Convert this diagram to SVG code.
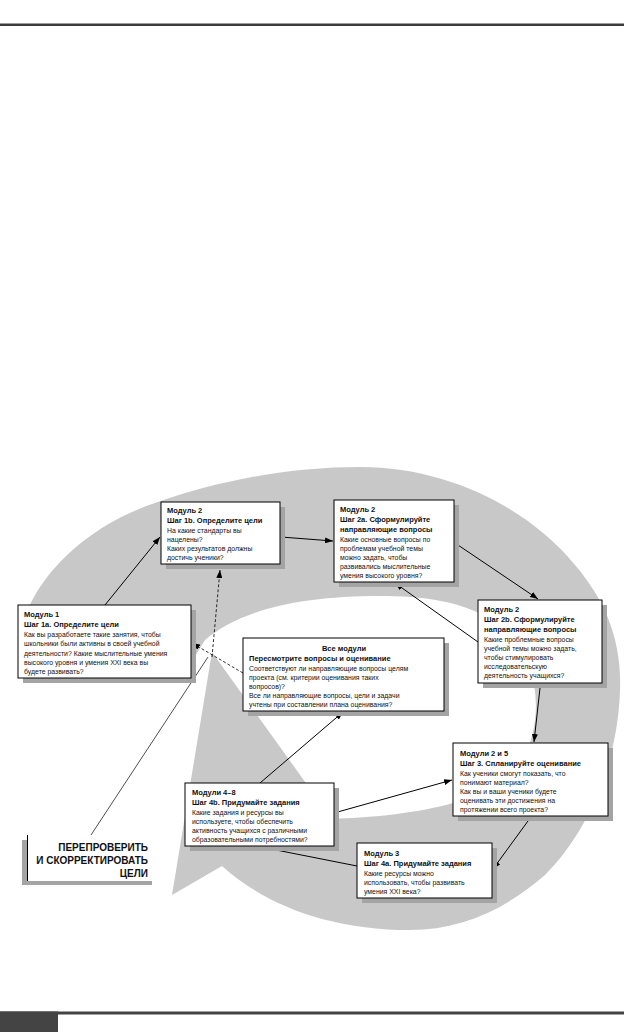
<svg xmlns="http://www.w3.org/2000/svg" width="624" height="1032" viewBox="0 0 624 1032">
<defs>
<style>
.b{font-family:"Liberation Sans",Arial,sans-serif;font-size:7.5px;font-weight:bold;fill:#111}
.r{font-family:"Liberation Sans",Arial,sans-serif;font-size:6.9px;fill:#111}
.big{font-family:"Liberation Sans",Arial,sans-serif;font-size:10px;font-weight:bold;fill:#111}
.box{fill:#fff;stroke:#000;stroke-width:1}
.sh{fill:#a4a4a4}
.c{stroke:#000;stroke-width:1;fill:none}
.d{stroke:#000;stroke-width:0.8;fill:none;stroke-dasharray:3 2}
</style>
<marker id="ah" viewBox="0 0 8 6" refX="8" refY="3" markerWidth="8" markerHeight="6" markerUnits="userSpaceOnUse" orient="auto">
<path d="M0,0 L8,3 L0,6 z" fill="#000"/>
</marker>
</defs>
<rect width="624" height="1032" fill="#fff"/>
<rect x="0" y="23.5" width="624" height="2.5" fill="#3c3c3c"/>
<rect x="0" y="1011.5" width="624" height="3" fill="#444"/>
<rect x="0" y="1011.5" width="58" height="20.5" fill="#444"/>

<g id="ring">
<path fill="#c8c8c8" d="M 22 668 C 6 615, 60 535, 155 503 C 220 480, 290 467, 360 467 C 450 467, 530 510, 575 565 C 605 600, 622 640, 620 690 C 618 760, 590 830, 545 875 C 505 910, 460 930, 410 930 C 330 930, 265 905, 222 866 L 172 895 L 212 652 L 318 800 L 290 818 C 360 822, 480 812, 515 770 C 545 735, 545 660, 500 625 C 465 600, 420 596, 380 596 C 300 596, 240 610, 205 640 L 188 668 Z"/>
</g>

<g id="connectors">
<line class="c" x1="105" y1="605" x2="160" y2="537" marker-end="url(#ah)"/>
<line class="c" x1="281" y1="537" x2="333" y2="541" marker-end="url(#ah)"/>
<line class="c" x1="455" y1="543" x2="538" y2="599" marker-end="url(#ah)"/>
<line class="c" x1="478" y1="642" x2="395" y2="583" marker-end="url(#ah)"/>
<line class="c" x1="540" y1="688" x2="534" y2="742" marker-end="url(#ah)"/>
<line class="c" x1="528" y1="821" x2="493" y2="869" marker-end="url(#ah)"/>
<line class="c" x1="357" y1="866" x2="261" y2="847" marker-end="url(#ah)"/>
<line class="c" x1="334" y1="813" x2="452" y2="780" marker-end="url(#ah)"/>
<line class="c" x1="260" y1="783" x2="343" y2="712" marker-end="url(#ah)"/>
<line class="d" x1="243" y1="673" x2="192" y2="643" marker-end="url(#ah)"/>
<line class="d" x1="212" y1="657" x2="220" y2="570" marker-end="url(#ah)"/>
<line x1="91" y1="835" x2="208" y2="657" stroke="#222" stroke-width="0.8"/>
</g>

<g id="n1b">
<rect class="sh" x="166" y="507" width="119" height="62"/>
<rect class="box" x="161" y="502" width="119" height="62"/>
<text class="b" x="167" y="513">Модуль 2</text>
<text class="b" x="167" y="523">Шаг 1b. Определите цели</text>
<text class="r" x="167" y="533">На какие стандарты вы</text>
<text class="r" x="167" y="542">нацелены?</text>
<text class="r" x="167" y="551">Каких результатов должны</text>
<text class="r" x="167" y="560">достичь ученики?</text>
</g>

<g id="n2a">
<rect class="sh" x="339" y="505" width="120" height="82"/>
<rect class="box" x="334" y="500" width="120" height="82"/>
<text class="b" x="340" y="512">Модуль 2</text>
<text class="b" x="340" y="522">Шаг 2a. Сформулируйте</text>
<text class="b" x="340" y="532">направляющие вопросы</text>
<text class="r" x="340" y="542">Какие основные вопросы по</text>
<text class="r" x="340" y="551">проблемам учебной темы</text>
<text class="r" x="340" y="560">можно задать, чтобы</text>
<text class="r" x="340" y="569">развивались мыслительные</text>
<text class="r" x="340" y="578">умения высокого уровня?</text>
</g>

<g id="n1">
<rect class="sh" x="23" y="610" width="173" height="73"/>
<rect class="box" x="18" y="605" width="173" height="73"/>
<text class="b" x="24" y="617">Модуль 1</text>
<text class="b" x="24" y="627">Шаг 1a. Определите цели</text>
<text class="r" x="24" y="637">Как вы разработаете такие занятия, чтобы</text>
<text class="r" x="24" y="646">школьники были активны в своей учебной</text>
<text class="r" x="24" y="656">деятельности? Какие мыслительные умения</text>
<text class="r" x="24" y="665">высокого уровня и умения XXI века вы</text>
<text class="r" x="24" y="674">будете развивать?</text>
</g>

<g id="n2b">
<rect class="sh" x="483" y="605" width="124" height="83"/>
<rect class="box" x="478" y="600" width="124" height="83"/>
<text class="b" x="484" y="612">Модуль 2</text>
<text class="b" x="484" y="622">Шаг 2b. Сформулируйте</text>
<text class="b" x="484" y="632">направляющие вопросы</text>
<text class="r" x="484" y="642">Какие проблемные вопросы</text>
<text class="r" x="484" y="651">учебной темы можно задать,</text>
<text class="r" x="484" y="660">чтобы стимулировать</text>
<text class="r" x="484" y="669">исследовательскую</text>
<text class="r" x="484" y="678">деятельность учащихся?</text>
</g>

<g id="nall">
<rect class="sh" x="248" y="643" width="201" height="73"/>
<rect class="box" x="243" y="638" width="201" height="73"/>
<text class="b" x="344" y="651" text-anchor="middle">Все модули</text>
<text class="b" x="249" y="661">Пересмотрите вопросы и оценивание</text>
<text class="r" x="249" y="671">Соответствуют ли направляющие вопросы целям</text>
<text class="r" x="249" y="680">проекта (см. критерии оценивания таких</text>
<text class="r" x="249" y="689">вопросов)?</text>
<text class="r" x="249" y="698">Все ли направляющие вопросы, цели и задачи</text>
<text class="r" x="249" y="707">учтены при составлении плана оценивания?</text>
</g>

<g id="n25">
<rect class="sh" x="458" y="748" width="155" height="73"/>
<rect class="box" x="453" y="743" width="155" height="73"/>
<text class="b" x="460" y="756">Модули 2 и 5</text>
<text class="b" x="460" y="766">Шаг 3. Спланируйте оценивание</text>
<text class="r" x="460" y="776">Как ученики смогут показать, что</text>
<text class="r" x="460" y="785">понимают материал?</text>
<text class="r" x="460" y="794">Как вы и ваши ученики будете</text>
<text class="r" x="460" y="803">оценивать эти достижения на</text>
<text class="r" x="460" y="812">протяжении всего проекта?</text>
</g>

<g id="n4b">
<rect class="sh" x="190" y="788" width="149" height="63"/>
<rect class="box" x="185" y="783" width="149" height="63"/>
<text class="b" x="192" y="795">Модули 4–8</text>
<text class="b" x="192" y="805">Шаг 4b. Придумайте задания</text>
<text class="r" x="192" y="815">Какие задания и ресурсы вы</text>
<text class="r" x="192" y="824">используете, чтобы обеспечить</text>
<text class="r" x="192" y="833">активность учащихся с различными</text>
<text class="r" x="192" y="842">образовательными потребностями?</text>
</g>

<g id="n3">
<rect class="sh" x="362" y="848" width="135" height="55"/>
<rect class="box" x="357" y="843" width="135" height="55"/>
<text class="b" x="364" y="856">Модуль 3</text>
<text class="b" x="364" y="866">Шаг 4a. Придумайте задания</text>
<text class="r" x="364" y="876">Какие ресурсы можно</text>
<text class="r" x="364" y="885">использовать, чтобы развивать</text>
<text class="r" x="364" y="894">умения XXI века?</text>
</g>

<g id="nrecheck">
<rect class="sh" x="22" y="840" width="130" height="45"/>
<rect x="27" y="835" width="125" height="46" fill="#fff"/>
<line x1="27.5" y1="835" x2="27.5" y2="881" stroke="#000" stroke-width="1"/>
<text class="big" x="148" y="851" text-anchor="end">ПЕРЕПРОВЕРИТЬ</text>
<text class="big" x="148" y="864" text-anchor="end">И СКОРРЕКТИРОВАТЬ</text>
<text class="big" x="148" y="877" text-anchor="end">ЦЕЛИ</text>
</g>
</svg>
